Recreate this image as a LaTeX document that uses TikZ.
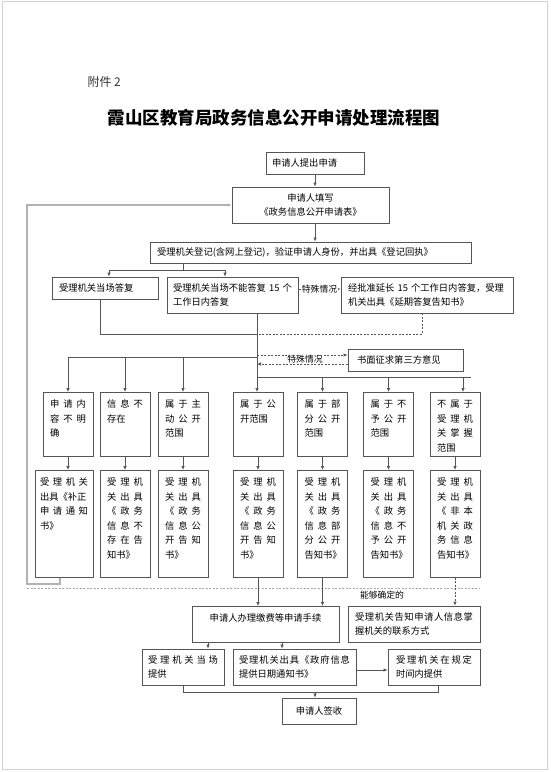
\documentclass[tikz,border=0pt]{standalone}
\usepackage{fontspec}
\setmainfont{Noto Sans CJK SC}
\usetikzlibrary{arrows.meta, calc, positioning}
\setlength{\parindent}{0pt}
\definecolor{linec}{HTML}{555555}
% Zeichen gleichmaessig ueber die Zeile verteilen
\newcommand\spread[1]{\spreadA#1\relax}
\def\spreadA#1{\ifx\relax#1\else#1\expandafter\spreadB\fi}
\def\spreadB#1{\ifx\relax#1\else\hfill#1\expandafter\spreadB\fi}
\tikzset{
    box/.style={draw=linec, line width=0.7pt, inner ysep=0pt, align=left,
        font=\fontsize{9.3}{14.5}\selectfont},
    colbox/.style={box, anchor=north, text width=36pt, inner xsep=7pt, text height=15.5pt},
    lnk/.style={draw=linec, line width=0.7pt},
    arr/.style={lnk, -{Latex[length=4pt,width=3.5pt]}},
    dsh/.style={dash pattern=on 2pt off 1.5pt},
    lbl/.style={inner sep=0.5pt, font=\fontsize{8.8}{10}\selectfont},
    loopl/.style={draw=gray!60, line width=1.2pt, -{Latex[length=4pt,width=3.5pt]}},
}

\begin{document}
\begin{tikzpicture}[x=1pt, y=-1pt]

\useasboundingbox (0,0) rectangle (550,772);
\draw[gray!35, line width=1.2pt] (2.5,1.5) rectangle (547.5,769.5);

% Kopf
\node[anchor=west, font=\fontsize{12}{14}\selectfont, text=black!80] (att) at (84,82) {附件 2};
\node[font=\fontsize{17.5}{20}\selectfont\bfseries] (title) at (274,118) {霞山区教育局政务信息公开申请处理流程图};

% obere Kaesten
\node[box, text width=86pt, inner xsep=6pt, minimum height=22pt] (ask) at (315,163) {申请人提出申请};
\node[box, align=center, minimum width=157pt, minimum height=36pt] (fill) at (310.5,205) {申请人填写\\《政务信息公开申请表》};
\node[box, text width=307pt, inner xsep=7pt, minimum height=21pt] (reg) at (310.5,252.5) {受理机关登记(含网上登记)，验证申请人身份，并出具《登记回执》};
\node[box, text width=92pt, inner xsep=7pt, minimum height=22pt] (ans) at (105,288) {受理机关当场答复};
\node[box, text width=119pt, inner xsep=6pt, minimum height=36pt] (wait) at (232.5,295) {受理机关当场不能答复~15~个\\工作日内答复};
\node[box, text width=158pt, inner xsep=7pt, minimum height=36pt] (ext) at (427,295) {经批准延长~15~个工作日内答复，受理\\机关出具《延期答复告知书》};
\node[box, text width=97pt, inner xsep=9pt, minimum height=22pt] (third) at (405.5,360) {书面征求第三方意见};

% erste Spaltenreihe
\node[colbox, text depth=48.5pt] (c1) at (68,392) {\spread{申请内}\\\spread{容不明}\\确};
\node[colbox, text depth=48.5pt] (c2) at (125,392) {\spread{信息不}\\存在};
\node[colbox, text depth=48.5pt] (c3) at (183,392) {\spread{属于主}\\\spread{动公开}\\范围};
\node[colbox, text depth=48.5pt] (c4) at (258,392) {\spread{属于公}\\开范围};
\node[colbox, text depth=48.5pt] (c5) at (322.5,392) {\spread{属于部}\\\spread{分公开}\\范围};
\node[colbox, text depth=48.5pt] (c6) at (388.5,392) {\spread{属于不}\\\spread{予公开}\\范围};
\node[colbox, text depth=48.5pt] (c7) at (455,392) {\spread{不属于}\\\spread{受理机}\\\spread{关掌握}\\范围};

% zweite Spaltenreihe
\node[colbox, text width=48pt, inner xsep=5pt, text depth=91.5pt] (d1) at (64,470) {\spread{受理机关}\\出具《补正\\\spread{申请通知}\\书》};
\node[colbox, text depth=91.5pt] (d2) at (125,470) {\spread{受理机}\\\spread{关出具}\\\spread{《政务}\\\spread{信息不}\\\spread{存在告}\\知书》};
\node[colbox, text depth=91.5pt] (d3) at (183,470) {\spread{受理机}\\\spread{关出具}\\\spread{《政务}\\\spread{信息公}\\\spread{开告知}\\书》};
\node[colbox, text depth=91.5pt] (d4) at (258,470) {\spread{受理机}\\\spread{关出具}\\\spread{《政务}\\\spread{信息公}\\\spread{开告知}\\书》};
\node[colbox, text depth=91.5pt] (d5) at (322.5,470) {\spread{受理机}\\\spread{关出具}\\\spread{《政务}\\\spread{信息部}\\\spread{分公开}\\告知书》};
\node[colbox, text depth=91.5pt] (d6) at (388.5,470) {\spread{受理机}\\\spread{关出具}\\\spread{《政务}\\\spread{信息不}\\\spread{予公开}\\告知书》};
\node[colbox, text depth=91.5pt] (d7) at (455,470) {\spread{受理机}\\\spread{关出具}\\\spread{《非本}\\\spread{机关政}\\\spread{务信息}\\告知书》};

% untere Kaesten
\node[box, anchor=north, align=center, minimum width=147pt, text height=15.5pt, text depth=20.5pt] (pay) at (265.5,606) {申请人办理缴费等申请手续};
\node[box, text width=118pt, inner xsep=7pt, minimum height=36pt] (tell) at (414,624) {\spread{受理机关告知申请人信息掌}\\握机关的联系方式};
\node[box, text width=70pt, inner xsep=6pt, minimum height=36pt] (now) at (183,667) {\spread{受理机关当场}\\提供};
\node[box, text width=111pt, inner xsep=6pt, minimum height=36pt] (notice) at (294.5,667) {\spread{受理机关出具《政府信息}\\提供日期通知书》};
\node[box, text width=76pt, inner xsep=8pt, minimum height=36pt] (later) at (434,667) {\spread{受理机关在规定}\\时间内提供};
\node[box, align=center, minimum width=74pt, minimum height=26pt] (sign) at (319,711) {申请人签收};

% Verbindungen oben
\draw[arr] (ask.south) -- (ask.south |- fill.north);
\draw[arr] (315,0 |- fill.south) -- (315,0 |- reg.north);
\coordinate (sp) at (183,270);
\draw[lnk] (183,0 |- reg.south) -- (sp);
\draw[lnk] (109,270) -- (225,270);
\draw[arr] (109,270) -- (109,0 |- ans.north);
\draw[arr] (225,270) -- (225,0 |- wait.north);
\draw[arr] (wait.east |- 0,289) -- (ext.west |- 0,289)
    node[midway, lbl, fill=white] (sp1) {特殊情况};

% Stamm
\coordinate (tk) at (257,334);
\draw[lnk] (100,0 |- ans.south) |- (tk);
\draw[lnk, dsh] (422,0 |- ext.south) |- (tk);
\draw[arr] (257,0 |- wait.south) -- (257,0 |- c4.north);

% Verzweigung links
\coordinate (bl) at (68,357);
\draw[lnk] (bl) -- (257,357);
\draw[arr] (bl) -- (c1.north);
\draw[arr] (c2.north |- bl) -- (c2.north);
\draw[arr] (c3.north |- bl) -- (c3.north);

% Dritte
\draw[arr, dsh] (257,355) -- (third.west |- 0,355);
\draw[arr, dsh] (third.west |- 0,364) -- (257,364);
\node[lbl, fill=white] (sp2) at (305,359.5) {特殊情况};

% Verzweigung rechts
\coordinate (br) at (471,377);
\draw[lnk] (257,377) -- (br);
\draw[arr] (c5.north |- br) -- (c5.north);
\draw[arr] (c6.north |- br) -- (c6.north);
\draw[arr] (463,377) -- (463,0 |- c7.north);

% Spalten
\foreach \i in {1,...,7}
    \draw[arr] (c\i.south) -- (c\i.south |- d\i.north);

% Rueckweg
\coordinate (lp) at (27,584);
\draw[loopl] (60,0 |- d1.south) |- (lp) |- (fill.west);
\draw[gray!70, line width=0.6pt, dsh] (27,588) -- (480,588);

% Verbindungen unten
\draw[arr] (d4.south) -- (d4.south |- pay.north);
\draw[arr] (d5.south) -- (d5.south |- pay.north);
\draw[arr, dsh] (d7.south) -- (d7.south |- tell.north);
\node[lbl] (ok) at (382,595.5) {能够确定的};
\draw[arr] (208,0 |- pay.south) -- (208,0 |- now.north);
\draw[arr] (282,0 |- pay.south) -- (282,0 |- notice.north);
\draw[arr] (notice.east |- 0,670) -- (later.west |- 0,670);
\coordinate (jn) at (315,692);
\draw[lnk] (now.south) |- (jn);
\draw[lnk] (438,0 |- later.south) |- (jn);
\draw[arr] (jn) -- (jn |- sign.north);

\end{tikzpicture}
\end{document}
